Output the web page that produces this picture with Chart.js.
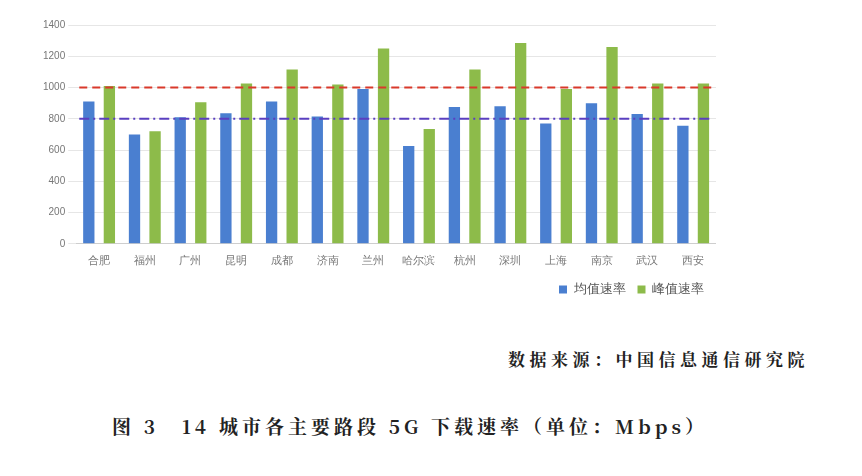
<!DOCTYPE html>
<html><head><meta charset="utf-8">
<script src="https://cdn.jsdelivr.net/npm/chart.js@4"></script>
<style>
body{margin:0;background:#fff;width:862px;height:476px;overflow:hidden;font-family:"Noto Sans CJK SC";}
#wrap{position:absolute;left:40px;top:16px;width:676px;height:290px;}
.src{position:absolute;left:508px;top:346px;font-size:17px;color:#222;letter-spacing:4.5px;font-family:"Noto Serif CJK SC","Noto Sans CJK SC";font-weight:bold;}
.cap{position:absolute;left:112px;top:412px;font-size:19px;color:#222;letter-spacing:4px;font-family:"Noto Serif CJK SC","Noto Sans CJK SC";font-weight:bold;}
</style></head><body>
<div id="wrap"><canvas id="c"></canvas></div>
<div class="src">数据来源：中国信息通信研究院</div>
<div class="cap">图 3　14 城市各主要路段 5G 下载速率（单位：Mbps）</div>
<script>
const cities = ['合肥','福州','广州','昆明','成都','济南','兰州','哈尔滨','杭州','深圳','上海','南京','武汉','西安'];
const avgSpeed = [910,700,810,835,910,815,990,625,875,880,770,900,830,755];
const peakSpeed = [1010,720,905,1025,1115,1020,1250,735,1115,1285,990,1260,1025,1025];
const refLines = [
  { value: 1000, color: '#d9392b', dash: [8, 5] },
  { value: 800, color: '#5a3fc0', dash: [10, 4, 2, 4] }
];

const refPlugin = {
  id: 'refLines',
  afterDatasetsDraw(chart) {
    const { ctx, chartArea, scales } = chart;
    refLines.forEach(r => {
      const y = scales.y.getPixelForValue(r.value);
      ctx.save();
      ctx.strokeStyle = r.color;
      ctx.lineWidth = 2;
      ctx.setLineDash(r.dash);
      ctx.beginPath();
      ctx.moveTo(chartArea.left + 3, y);
      ctx.lineTo(chartArea.right - 3, y);
      ctx.stroke();
      ctx.restore();
    });
  }
};

new Chart(document.getElementById('c'), {
  type: 'bar',
  data: {
    labels: cities,
    datasets: [
      { label: '均值速率', data: avgSpeed, backgroundColor: '#4a7fd0', barPercentage: 0.55, categoryPercentage: 0.9 },
      { label: '峰值速率', data: peakSpeed, backgroundColor: '#8dbb4a', barPercentage: 0.55, categoryPercentage: 0.9 }
    ]
  },
  options: {
    responsive: true, maintainAspectRatio: false, animation: false,
    plugins: {
      legend: {
        position: 'bottom', align: 'end',
        labels: { boxWidth: 8, boxHeight: 8, color: '#555', font: { size: 13 }, padding: 12 }
      },
      tooltip: { enabled: false }
    },
    scales: {
      x: { grid: { display: false }, ticks: { color: '#777', font: { size: 11 } } },
      y: { min: 0, max: 1400,
           ticks: { stepSize: 200, color: '#777', font: { size: 10 }, callback: v => String(v) },
           grid: { color: '#e6e6e6' }, border: { display: false } }
    }
  },
  plugins: [refPlugin]
});
</script></body></html>
